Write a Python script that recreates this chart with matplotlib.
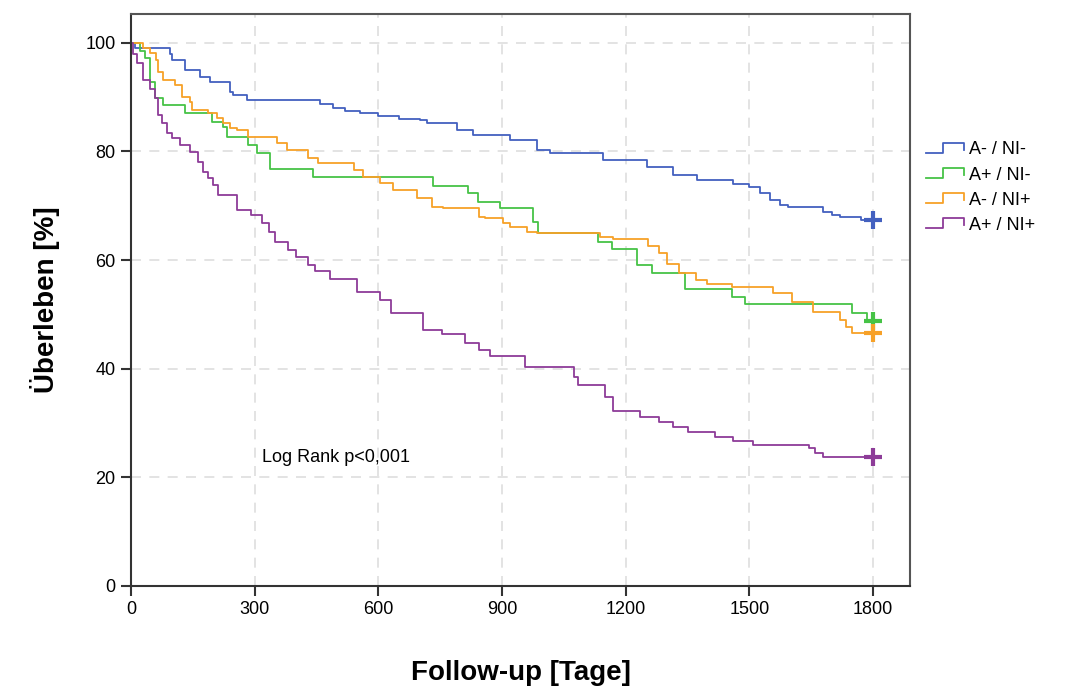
import matplotlib.pyplot as plt
from matplotlib.legend_handler import HandlerBase
from matplotlib.lines import Line2D

plt.rcParams['font.family'] = ['Liberation Sans', 'DejaVu Sans']

# Kaplan-Meier step curves (day, survival in %), value holds from day onward
t_blue = [0, 10, 95, 100, 130, 167, 192, 240, 247, 281, 458, 490, 520, 555, 600, 650, 700,
          718, 790, 830, 920, 985, 1016, 1145, 1252, 1315, 1373, 1460, 1500, 1525, 1550, 1575,
          1594, 1680, 1700, 1720, 1770]
s_blue = [100, 99.1, 98.0, 96.9, 95.0, 93.7, 92.8, 91.0, 90.4, 89.5, 88.7, 88.0, 87.4, 87.1, 86.5,
          86.0, 85.8, 85.3, 84.0, 83.1, 82.1, 80.3, 79.7, 78.5, 77.2, 75.7, 74.8, 74.0, 73.5,
          72.4, 71.1, 70.2, 69.8, 68.9, 68.3, 68.0, 67.4]

t_green = [0, 22, 34, 46, 58, 78, 131, 196, 223, 233, 284, 306, 337, 441, 733, 818, 842, 895,
           975, 987, 1133, 1167, 1227, 1264, 1345, 1458, 1490, 1749, 1785]
s_green = [100, 98.5, 97.2, 92.8, 89.9, 88.6, 87.1, 85.5, 84.5, 82.7, 81.2, 79.7, 76.8, 75.3,
           73.7, 72.4, 70.7, 69.6, 67.0, 65.0, 63.4, 62.0, 59.1, 57.6, 54.7, 53.2, 51.9, 50.3, 48.8]

t_orange = [0, 30, 45, 60, 65, 78, 107, 124, 143, 148, 187, 209, 224, 240, 257, 284, 354, 378,
            430, 454, 540, 563, 604, 636, 694, 730, 757, 845, 859, 902, 920, 961, 985, 1138, 1169,
            1255, 1280, 1300, 1330, 1370, 1397, 1458, 1557, 1603, 1655, 1720, 1735, 1749]
s_orange = [100, 99.0, 98.2, 96.9, 94.7, 93.2, 92.3, 90.1, 89.1, 87.7, 87.1, 86.2, 85.3, 84.3,
            84.0, 82.7, 81.6, 80.3, 78.8, 77.9, 76.6, 75.3, 74.2, 72.9, 71.5, 69.8, 69.6, 68.0,
            67.8, 66.9, 66.1, 65.2, 65.0, 64.3, 63.9, 62.6, 61.3, 59.3, 57.7, 56.4, 55.6, 55.1,
            54.0, 52.3, 50.5, 49.0, 47.7, 46.6]

t_purple = [0, 5, 15, 29, 45, 58, 65, 75, 87, 100, 119, 143, 162, 175, 187, 200, 211, 257, 290,
            318, 335, 349, 380, 400, 430, 446, 483, 548, 605, 630, 708, 754, 810, 845, 871, 956,
            1075, 1085, 1150, 1169, 1235, 1280, 1315, 1352, 1417, 1460, 1509, 1645, 1660, 1679]
s_purple = [100, 98, 96.3, 93.2, 91.5, 89.9, 86.7, 85.3, 83.4, 82.5, 81.2, 79.9, 78.1, 76.2,
            75.1, 73.8, 72.0, 69.2, 68.3, 66.9, 65.2, 63.4, 61.9, 60.6, 59.1, 58.0, 56.5, 54.1,
            52.7, 50.3, 47.1, 46.4, 44.8, 43.5, 42.4, 40.3, 38.5, 37.0, 34.8, 32.2, 31.1, 30.2,
            29.3, 28.4, 27.4, 26.7, 26.0, 25.4, 24.5, 23.8]

end_day = 1800
labels = ['A- / NI-', 'A+ / NI-', 'A- / NI+', 'A+ / NI+']
colors = ['#4360bf', '#46c346', '#f7a128', '#8d3c98']
curves = [(t_blue, s_blue), (t_green, s_green), (t_orange, s_orange), (t_purple, s_purple)]


class StepHandler(HandlerBase):
    def create_artists(self, legend, orig_handle, xdescent, ydescent, width, height, fontsize, trans):
        x0 = -xdescent
        y0 = -ydescent
        xs = [x0, x0 + 0.45 * width, x0 + 0.45 * width, x0 + width, x0 + width]
        ys = [y0 + 0.1 * height, y0 + 0.1 * height, y0 + 0.9 * height, y0 + 0.9 * height, y0 + 0.35 * height]
        ln = Line2D(xs, ys, color=orig_handle.get_color(), lw=1.3, transform=trans)
        return [ln]


fig = plt.figure(figsize=(10.66, 6.88), dpi=100)
ax = fig.add_axes([0.1229, 0.1483, 0.7308, 0.8314])

handles = []
for (t, s), c, lab in zip(curves, colors, labels):
    line, = ax.plot(t + [end_day], s + [s[-1]], drawstyle='steps-post', color=c, lw=1.3, label=lab)
    ax.plot([end_day], [s[-1]], marker='+', color=c, markersize=13, mew=3)
    handles.append(line)

ax.set_xlim(0, 1890)
ax.set_ylim(0, 105.3)
ax.set_xticks([0, 300, 600, 900, 1200, 1500, 1800])
ax.set_yticks([0, 20, 40, 60, 80, 100])
ax.grid(True, color='#dedede', linestyle=(0, (6, 5)), lw=1.2)
ax.set_axisbelow(True)
ax.tick_params(direction='out', length=7, width=1.5, labelsize=13, color='#333333', pad=4)
for sp in ax.spines.values():
    sp.set_color('#555555')
    sp.set_linewidth(1.5)
ax.spines['left'].set_color('#333333')
ax.spines['bottom'].set_color('#333333')

ax.set_xlabel('Follow-up [Tage]', fontsize=20, fontweight='bold', labelpad=30)
ax.set_ylabel('Überleben [%]', fontsize=20, fontweight='bold', labelpad=18)
ax.text(318, 23.6, 'Log Rank p<0,001', fontsize=13, va='center', ha='left')

fig.legend(handles=handles, labels=labels, handler_map={Line2D: StepHandler()},
           loc='upper left', bbox_to_anchor=(0.862, 0.805), frameon=False, fontsize=13,
           handlelength=2.1, handletextpad=0.3, labelspacing=0.45, borderaxespad=0)

fig.savefig('out.png', dpi=100)
